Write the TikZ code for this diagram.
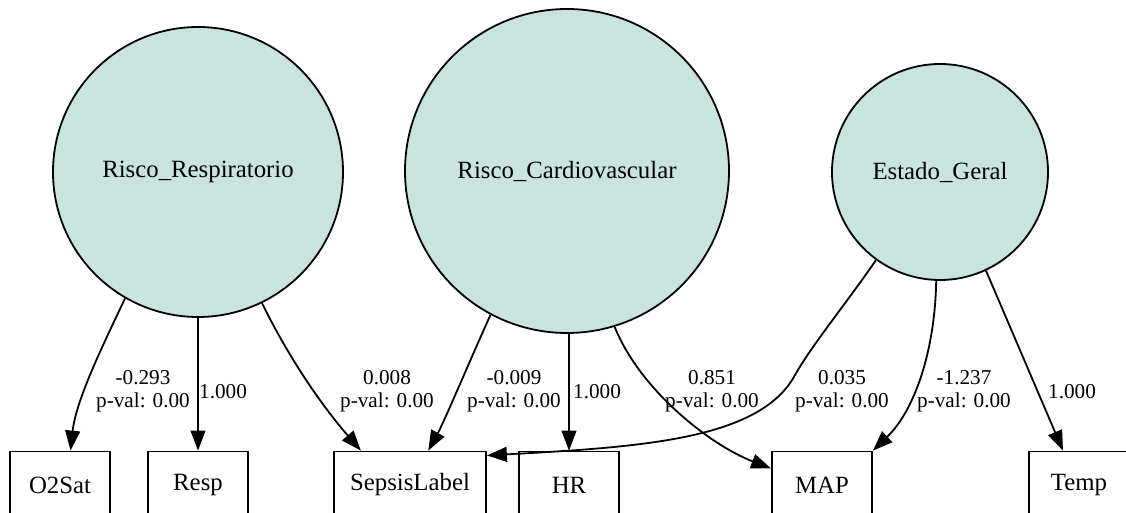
\documentclass[tikz,border=0pt]{standalone}
\usepackage{fontspec}
\setmainfont{Liberation Serif}
\usetikzlibrary{arrows.meta}
\definecolor{latfill}{HTML}{C9E4DE}
\begin{document}
\begin{tikzpicture}[x=0.5pt,y=-0.5pt,
 latent/.style={circle,draw=black,line width=0.9pt,fill=latfill,inner sep=0pt,font=\fontsize{12.4}{14}\selectfont},
 obs/.style={rectangle,draw=black,line width=0.9pt,inner sep=0pt,minimum width=50pt,minimum height=33.5pt,font=\fontsize{12.4}{14}\selectfont},
 conn/.style={draw=black,line width=0.9pt,-{Triangle[length=10pt,width=7.4pt]}},
 lbl/.style={align=center,inner sep=0pt,font=\fontsize{10.6}{11.5}\selectfont}]
\clip (0,0) rectangle (1126,513);
\useasboundingbox (0,0) rectangle (1126,513);
% latent variables
\node[latent,minimum size=145pt] (rr) at (198,172) {Risco\_Respiratorio};
\node[latent,minimum size=162pt] (rc) at (567,171) {Risco\_Cardiovascular};
\node[latent,minimum size=108pt] (eg) at (940,172) {Estado\_Geral};
% observed variables
\node[obs] (o2sat) at (60,485) {O2Sat};
\node[obs] (resp) at (198,485) {Resp};
\node[obs,minimum width=76pt] (sepsis) at (410,485) {SepsisLabel};
\node[obs] (hr) at (569,485) {HR};
\node[obs] (map) at (822,485) {MAP};
\node[obs] (temp) at (1079,485) {Temp};
% connectors
\draw[conn] (rr.240.6) .. controls (103,345) and (76,400) .. (o2sat.73);
\draw[conn] (rr.south) -- (resp.north);
\draw[conn] (rr.296.6) .. controls (295,370) and (330,415) .. (sepsis.145);
\draw[conn] (rc.242.4) .. controls (470,360) and (445,420) .. (sepsis.62);
\draw[conn] (hr.north |- rc.south) -- (hr.north);
\draw[conn] (rc.287.7) .. controls (640,390) and (710,445) .. (map.162);
\draw[conn] (eg.234.6) .. controls (845,305) and (812,345) .. (795,375) .. controls (760,440) and (640,447) .. (sepsis.21);
\draw[conn] (eg.268) .. controls (935,350) and (915,410) .. (map.north east);
\draw[conn] (eg.295) -- (temp.115.5);
% labels
\node[lbl] (l1) at (143,391) {-0.293\\p-val: 0.00};
\node[lbl] (l2) at (223,392) {1.000};
\node[lbl] (l3) at (387,391) {0.008\\p-val: 0.00};
\node[lbl] (l4) at (514,391) {-0.009\\p-val: 0.00};
\node[lbl] (l5) at (597,392) {1.000};
\node[lbl] (l6) at (712,391) {0.851\\p-val: 0.00};
\node[lbl] (l7) at (842,391) {0.035\\p-val: 0.00};
\node[lbl] (l8) at (964,391) {-1.237\\p-val: 0.00};
\node[lbl] (l9) at (1072,392) {1.000};
\end{tikzpicture}
\end{document}
